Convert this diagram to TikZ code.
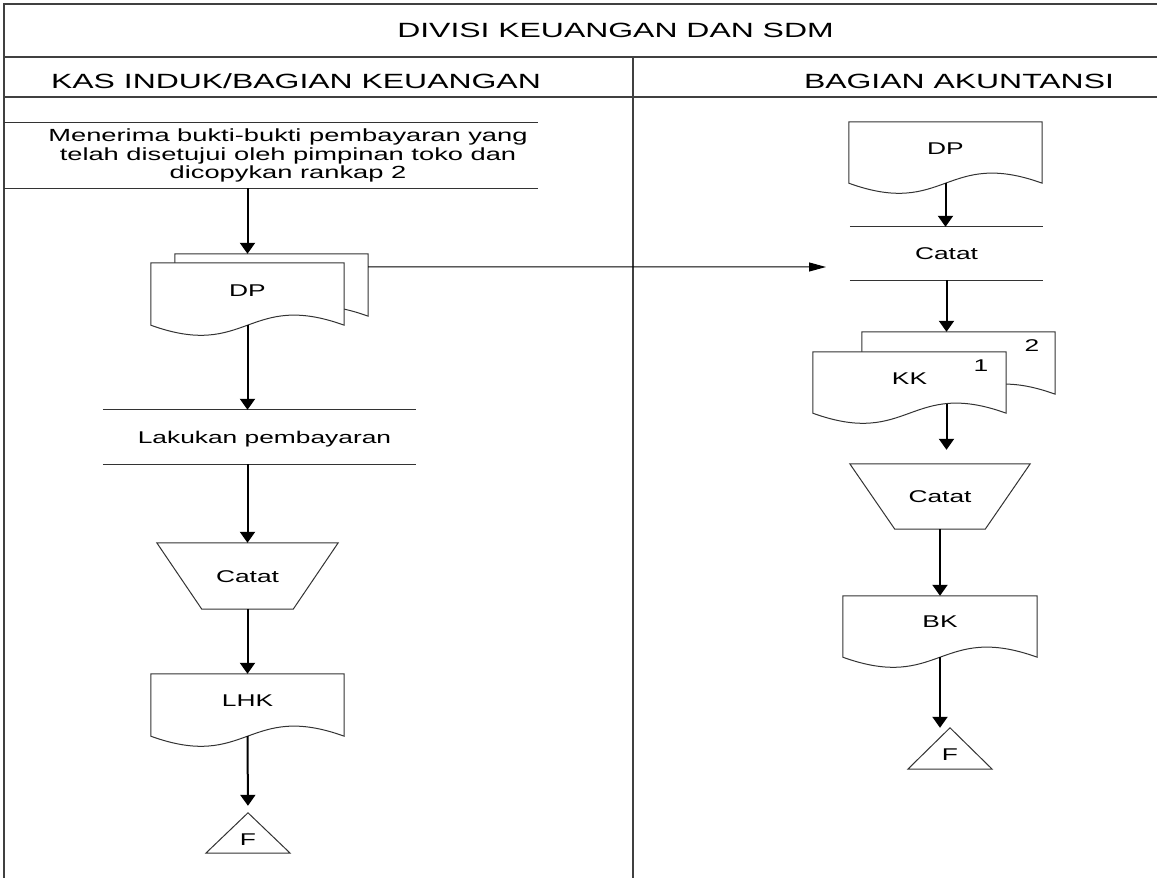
\documentclass[tikz,border=0pt]{standalone}
\usepackage{fontspec}
\setmainfont{Liberation Sans}[FakeStretch=1.55]
\usetikzlibrary{calc,arrows.meta,backgrounds}
\newcommand{\docpath}[1]{(#1.north west) -- (#1.north east) -- (#1.south east) .. controls ($(#1.south)+(0,-35)$) and ($(#1.south)+(0,35)$) .. (#1.south west) -- cycle}
\newcommand{\trappath}[1]{(#1.north west) -- (#1.north east) -- ($(#1.south east)+(-45,0)$) -- ($(#1.south west)+(45,0)$) -- cycle}
\newcommand{\tripath}[1]{(#1.south west) -- (#1.north) -- (#1.south east) -- cycle}
\begin{document}
\begin{tikzpicture}[x=1pt,y=-1pt,
  frame/.style={line width=2.2pt, draw=black!75},
  outline/.style={draw=black!80, line width=1pt},
  flow/.style={line width=2pt, draw=black, -{Triangle[width=15pt,length=11pt]}},
  link/.style={line width=1pt, draw=black, -{Triangle[width=9pt,length=17pt]}},
  lab/.style={font=\fontsize{17}{20}\selectfont, inner sep=0pt, text height=12.2pt, text depth=0pt},
  shapebox/.style={draw=none, inner sep=0pt, minimum width=#1},
  head/.style={font=\fontsize{20.6}{24}\selectfont, inner sep=0pt, anchor=base},
]
\useasboundingbox (0,0) rectangle (1157,878);
% lanes
\coordinate (L) at (4,0);
\node[head] (title) at (615.5,37) {DIVISI KEUANGAN DAN SDM};
\node[head] (lane1) at (296,88.5) {KAS INDUK/BAGIAN KEUANGAN};
\node[head] (lane2) at (959,88.5) {BAGIAN AKUNTANSI};

% ---------- left column ----------
\node[shapebox=500, minimum height=65, align=center, font=\fontsize{17.6}{18.6}\selectfont] (p1) at (288,155.5)
  {Menerima bukti-bukti pembayaran yang\\telah disetujui oleh pimpinan toko dan\\dicopykan rankap 2};
\node[shapebox=193, minimum height=62] (dpB) at (271.5,285) {};
\node[shapebox=193, minimum height=62, label={[lab,yshift=4pt]center:DP}] (dpF) at (247.5,294) {};
\node[shapebox=313, minimum height=54, label={[lab,xshift=5pt]center:Lakukan pembayaran}] (lak) at (259.5,437) {};
\node[shapebox=181, minimum height=66, lab] (c1) at (247.5,576) {Catat};
\node[shapebox=193, minimum height=62, label={[lab,yshift=4.5pt]center:LHK}] (lhk) at (247.5,705) {};
\node[shapebox=84, minimum height=40, label={[lab,yshift=-6pt]center:F}] (f1) at (248,833) {};

% ---------- right column ----------
\node[shapebox=193, minimum height=61, label={[lab,yshift=4.5pt]center:DP}] (dpR) at (945.5,152.5) {};
\node[shapebox=193, minimum height=53, lab] (rcat) at (946.5,253.5) {Catat};
\node[shapebox=193, minimum height=62, label={[lab,xshift=73.5pt,yshift=18pt]center:2}] (kkB) at (958.5,363) {};
\node[shapebox=193, minimum height=61, label={[lab,yshift=4pt]center:KK}, label={[lab,xshift=71.5pt,yshift=17.5pt]center:1}] (kkF) at (909.5,382.5) {};
\node[shapebox=180, minimum height=65, lab] (c2) at (940,496.5) {Catat};
\node[shapebox=194, minimum height=61, label={[lab,yshift=5.5pt]center:BK}] (bk) at (940,626.5) {};
\node[shapebox=84, minimum height=41, label={[lab,yshift=-6pt]center:F}] (f2) at (950,748.5) {};

\begin{pgfonlayer}{background}
\fill[white] (0,0) rectangle (1157,878);
\draw[frame] (4,878) -- (4,4) -- (1157,4);
\draw[frame] (4,57) -- (1157,57);
\draw[frame] (4,97) -- (1157,97);
\draw[frame] (633,57) -- (633,878);
\draw[outline] (p1.north west -| L) -- (p1.north east);
\draw[outline] (p1.south west -| L) -- (p1.south east);
\draw[outline, fill=white] \docpath{dpB};
\draw[outline, fill=white] \docpath{dpF};
\draw[outline] (lak.north west) -- (lak.north east);
\draw[outline] (lak.south west) -- (lak.south east);
\draw[outline] \trappath{c1};
\draw[outline] \docpath{lhk};
\draw[outline] \tripath{f1};
\draw[outline] \docpath{dpR};
\draw[outline] (rcat.north west) -- (rcat.north east);
\draw[outline] (rcat.south west) -- (rcat.south east);
\draw[outline, fill=white] \docpath{kkB};
\draw[outline, fill=white] \docpath{kkF};
\draw[outline] \trappath{c2};
\draw[outline] \docpath{bk};
\draw[outline] \tripath{f2};
\end{pgfonlayer}

\draw[flow] (p1.south -| dpF.north) -- (dpB.north -| dpF.north);
\draw[flow] (dpF.south) -- (dpF.south |- lak.north);
\draw[flow] (c1.north |- lak.south) -- (c1.north);
\draw[flow] (c1.south) -- (lhk.north);
\draw[flow, shorten >=7pt] (lhk.south) -- (f1.north);

\coordinate (cin) at (826,267);
\draw[link] ($(dpB.north east)+(0,13)$) -- (cin);
\draw[flow] (dpR.south) -- (dpR.south |- rcat.north);
\draw[flow] (rcat.south) -- (rcat.south |- kkB.north);
\draw[flow, shorten >=14pt] ($(rcat.south |- kkF.south)+(0,-9)$) -- (rcat.south |- c2.north);
\draw[flow] (c2.south) -- (bk.north);
\draw[flow] (bk.south) -- (bk.south |- f2.north);
\end{tikzpicture}
\end{document}
